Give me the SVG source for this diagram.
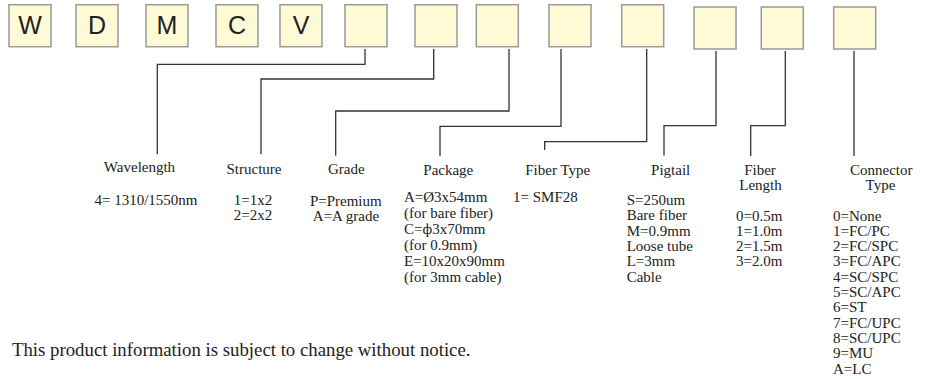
<svg xmlns="http://www.w3.org/2000/svg" width="928" height="379" viewBox="0 0 928 379">
<style>
.box{fill:#fffad6;stroke:#9a9a9a;stroke-width:1.5}
.let{font-family:"Liberation Sans",Arial,sans-serif;font-size:25px;fill:#222;text-anchor:middle}
.t{font-family:"Liberation Serif","Times New Roman",serif;font-size:15px;fill:#222}
.c{text-anchor:middle}
.ln{fill:none;stroke:#333;stroke-width:1.3}
.note{font-family:"Liberation Serif","Times New Roman",serif;font-size:18.8px;fill:#222}
</style>
<rect width="928" height="379" fill="#fff"/>
<g id="box1"><rect class="box" x="9" y="4.7" width="42" height="42"/><text class="let" x="30" y="33.5">W</text></g>
<g id="box2"><rect class="box" x="76" y="4.7" width="42" height="42"/><text class="let" x="97" y="33.5">D</text></g>
<g id="box3"><rect class="box" x="146" y="4.7" width="42" height="42"/><text class="let" x="167" y="33.5">M</text></g>
<g id="box4"><rect class="box" x="216" y="4.7" width="42" height="42"/><text class="let" x="237" y="33.5">C</text></g>
<g id="box5"><rect class="box" x="280" y="4.7" width="42" height="42"/><text class="let" x="301" y="33.5">V</text></g>
<g id="box6"><rect class="box" x="345" y="4.7" width="42" height="42"/></g>
<g id="box7"><rect class="box" x="415" y="4.7" width="42" height="42"/></g>
<g id="box8"><rect class="box" x="476.3" y="4.7" width="42" height="42"/></g>
<g id="box9"><rect class="box" x="549" y="4.7" width="42" height="42"/></g>
<g id="box10"><rect class="box" x="621.7" y="4.7" width="42" height="42"/></g>
<g id="box11"><rect class="box" x="694" y="7" width="42" height="42"/></g>
<g id="box12"><rect class="box" x="761.3" y="7" width="42" height="42"/></g>
<g id="box13"><rect class="box" x="833.7" y="7" width="42" height="42"/></g>
<g id="connectors">
<path class="ln" d="M365,49 V64.3 H157.3 V154.3"/>
<path class="ln" d="M433.7,49 V79 H261 V154.3"/>
<path class="ln" d="M509,49 V111 H335.7 V155.7"/>
<path class="ln" d="M561,49 V126.3 H440 V156"/>
<path class="ln" d="M646.7,49 V141.7 H544.7 V150"/>
<path class="ln" d="M716,51 V125.7 H664 V155.5"/>
<path class="ln" d="M785.3,51 V125.7 H750.7 V156"/>
<path class="ln" d="M854,51 V156"/>
</g>
<g id="wavelength">
<text class="t c" x="139.5" y="172">Wavelength</text>
<text class="t c" x="146" y="204.5">4= 1310/1550nm</text>
</g>
<g id="structure">
<text class="t c" x="254" y="173.5">Structure</text>
<text class="t c" x="253" y="205">1=1x2</text>
<text class="t c" x="253" y="220">2=2x2</text>
</g>
<g id="grade">
<text class="t c" x="346.3" y="174.3">Grade</text>
<text class="t c" x="345.8" y="205.5">P=Premium</text>
<text class="t c" x="346" y="220.7">A=A grade</text>
</g>
<g id="package">
<text class="t c" x="448.3" y="175">Package</text>
<text class="t" x="404" y="202">A=Ø3x54mm</text>
<text class="t" x="404" y="218">(for bare fiber)</text>
<text class="t" x="404" y="234">C=ф3x70mm</text>
<text class="t" x="404" y="250">(for 0.9mm)</text>
<text class="t" x="404" y="266">E=10x20x90mm</text>
<text class="t" x="404" y="282">(for 3mm cable)</text>
</g>
<g id="fibertype">
<text class="t c" x="557.7" y="175">Fiber Type</text>
<text class="t" x="513" y="202">1= SMF28</text>
</g>
<g id="pigtail">
<text class="t c" x="670.7" y="175">Pigtail</text>
<text class="t" x="626.7" y="205">S=250um</text>
<text class="t" x="626.7" y="220.3">Bare fiber</text>
<text class="t" x="626.7" y="235.6">M=0.9mm</text>
<text class="t" x="626.7" y="250.9">Loose tube</text>
<text class="t" x="626.7" y="266.2">L=3mm</text>
<text class="t" x="626.7" y="281.5">Cable</text>
</g>
<g id="fiberlength">
<text class="t c" x="760" y="175">Fiber</text>
<text class="t c" x="760.5" y="190">Length</text>
<text class="t" x="736" y="220.5">0=0.5m</text>
<text class="t" x="736" y="235.8">1=1.0m</text>
<text class="t" x="736" y="251.1">2=1.5m</text>
<text class="t" x="736" y="266.4">3=2.0m</text>
</g>
<g id="connectortype">
<text class="t c" x="881.3" y="175">Connector</text>
<text class="t c" x="880.5" y="190">Type</text>
<text class="t" x="833" y="220.5">0=None</text>
<text class="t" x="833" y="235.8">1=FC/PC</text>
<text class="t" x="833" y="251.1">2=FC/SPC</text>
<text class="t" x="833" y="266.4">3=FC/APC</text>
<text class="t" x="833" y="281.7">4=SC/SPC</text>
<text class="t" x="833" y="297">5=SC/APC</text>
<text class="t" x="833" y="312.3">6=ST</text>
<text class="t" x="833" y="327.6">7=FC/UPC</text>
<text class="t" x="833" y="342.9">8=SC/UPC</text>
<text class="t" x="833" y="358.2">9=MU</text>
<text class="t" x="833" y="373.5">A=LC</text>
</g>
<text class="note" x="12" y="356">This product information is subject to change without notice.</text>
</svg>
